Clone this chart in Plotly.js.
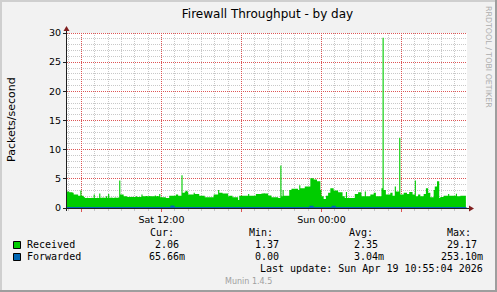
<!DOCTYPE html>
<html>
<head>
<meta charset="utf-8">
<script src="https://cdn.plot.ly/plotly-3.0.1.min.js"></script>
<style>
html,body{margin:0;padding:0;background:#F2F2F2;}
#chart{width:497px;height:292px;}
</style>
</head>
<body>
<div id="chart"></div>
<script>
// ---- data (5-minute samples, one row per hour, starting Sat 04:55) ----
const startTime = Date.UTC(2026, 3, 18, 4, 55, 0);
const stepMinutes = 5;

const receivedByHour = [
  [2.85, 2.85, 2.7, 2.7, 2.7, 2.6, 2.3, 2.3, 2.3, 2.3, 2.1, 2.1],
  [3.0, 2.1, 2.1, 1.9, 1.7, 1.7, 1.75, 1.7, 1.7, 1.7, 1.75, 1.7],
  [2.3, 1.7, 1.7, 1.75, 1.7, 2.5, 1.75, 1.75, 1.8, 1.75, 1.75, 2.0],
  [1.75, 2.4, 1.75, 1.75, 1.8, 1.7, 1.75, 1.8, 1.75, 1.75, 1.8, 4.7],
  [2.3, 2.3, 2.3, 2.0, 2.0, 2.0, 1.9, 1.9, 1.95, 1.9, 1.9, 1.95],
  [1.9, 1.9, 2.0, 1.9, 1.9, 1.95, 1.9, 2.3, 2.0, 2.0, 2.0, 2.05],
  [2.0, 2.0, 2.05, 2.0, 2.0, 2.0, 2.0, 2.15, 2.0, 2.05, 2.0, 2.4],
  [1.85, 1.85, 1.85, 1.85, 1.85, 1.7, 1.7, 1.7, 2.1, 2.1, 2.1, 2.1],
  [2.1, 2.1, 2.3, 2.3, 2.1, 2.1, 2.1, 5.6, 2.6, 2.6, 2.85, 2.95],
  [2.85, 2.3, 2.3, 2.3, 2.3, 2.3, 2.6, 2.4, 2.4, 2.4, 2.4, 2.1],
  [2.1, 2.1, 2.1, 2.1, 1.85, 1.85, 1.85, 1.85, 1.85, 1.85, 1.85, 1.85],
  [2.3, 2.3, 2.3, 2.3, 3.1, 2.6, 2.6, 2.6, 2.5, 2.5, 2.5, 2.5],
  [2.5, 2.0, 2.1, 2.1, 2.1, 1.85, 1.85, 1.85, 1.85, 1.85, 1.37, 2.1],
  [2.1, 2.1, 2.1, 2.1, 2.1, 2.1, 2.1, 2.4, 2.1, 2.1, 2.1, 2.1],
  [2.1, 2.1, 2.4, 2.4, 2.4, 2.4, 2.4, 2.5, 2.5, 2.55, 2.5, 2.5],
  [2.5, 2.15, 2.15, 2.15, 1.85, 1.85, 1.85, 1.85, 1.85, 1.85, 1.7, 1.7],
  [7.3, 2.0, 3.1, 2.1, 2.1, 2.1, 2.1, 2.1, 3.1, 3.1, 3.3, 3.3],
  [3.3, 3.3, 3.3, 3.3, 3.1, 3.9, 3.4, 3.4, 3.4, 3.4, 3.7, 3.7],
  [3.7, 3.7, 3.7, 5.1, 5.1, 5.1, 4.9, 4.9, 4.9, 4.6, 4.6, 4.6],
  [3.1, 2.0, 2.0, 1.55, 1.55, 2.1, 2.1, 2.6, 2.6, 3.4, 3.4, 3.4],
  [3.0, 3.0, 3.0, 3.0, 2.7, 2.7, 2.7, 2.7, 2.0, 2.0, 1.7, 2.75],
  [1.7, 1.7, 1.7, 1.7, 1.7, 1.7, 1.7, 2.4, 2.4, 2.4, 2.7, 2.7],
  [2.7, 2.0, 2.0, 2.0, 2.85, 2.0, 2.0, 2.0, 2.0, 2.3, 2.3, 2.3],
  [2.6, 2.6, 2.0, 2.0, 2.0, 2.0, 2.0, 3.4, 29.17, 3.1, 3.1, 2.3],
  [2.3, 2.3, 2.3, 2.6, 2.6, 2.1, 2.1, 3.7, 2.85, 2.85, 2.85, 12.06],
  [2.3, 2.3, 2.3, 2.6, 2.6, 2.6, 2.4, 2.4, 2.75, 2.75, 2.75, 2.3],
  [2.3, 4.7, 2.0, 2.0, 2.3, 2.3, 2.0, 2.0, 2.0, 2.4, 2.4, 3.4],
  [3.4, 2.6, 2.6, 1.85, 1.85, 1.85, 3.1, 3.7, 3.7, 4.6, 4.6, 1.7],
  [1.9, 1.9, 1.9, 2.1, 2.1, 2.1, 2.1, 2.4, 2.1, 2.1, 2.1, 2.1],
  [2.1, 2.1, 2.45, 2.0, 2.0, 2.0, 2.1, 2.1, 2.1, 2.1, 2.1, 2.06]
];

const forwardedByHour = [
  [0,0,0,0,0,0,0,0,0,0,0,0],
  [0,0,0,0,0,0,0,0,0,0,0,0],
  [0,0,0,0,0,0,0,0,0,0,0,0],
  [0,0,0,0,0,0,0,0,0,0,0,0],
  [0,0,0,0,0,0,0,0,0,0,0,0],
  [0,0,0,0,0,0,0,0,0,0,0,0],
  [0,0,0,0,0,0,0,0,0,0,0,0],
  [0,0,0,0,0,0,0,0,0,0,0.253,0.2],
  [0,0,0,0,0,0,0,0,0,0,0,0],
  [0,0,0,0,0,0,0,0,0,0,0,0],
  [0,0,0,0,0,0,0,0,0,0,0,0],
  [0,0,0,0,0,0,0,0,0,0,0,0],
  [0,0,0,0,0,0,0,0,0,0,0,0],
  [0,0,0,0,0,0,0,0,0,0,0,0],
  [0,0,0,0,0,0,0,0,0,0,0,0],
  [0,0,0,0,0,0,0,0,0,0,0,0],
  [0,0,0,0,0,0,0,0,0,0,0,0],
  [0,0,0,0,0,0,0,0,0,0,0,0],
  [0,0,0,0.2,0.2,0,0,0,0,0,0,0],
  [0,0,0,0,0,0,0,0,0,0,0,0.2],
  [0.2,0,0,0,0,0,0,0,0,0,0,0],
  [0,0,0,0,0,0,0,0,0,0,0,0],
  [0,0,0,0,0,0,0,0,0,0,0,0],
  [0,0,0,0,0,0,0,0,0,0,0,0],
  [0,0,0,0,0,0,0,0,0,0,0,0],
  [0,0,0,0,0,0,0,0,0,0,0,0],
  [0,0,0,0,0,0,0,0,0,0,0,0],
  [0,0,0,0,0,0,0,0,0,0,0,0],
  [0,0,0,0,0,0,0,0,0,0,0,0],
  [0,0,0,0,0,0,0,0,0,0,0,0.066]
];

const xRange = ['2026-04-18 04:55:00', '2026-04-19 10:55:00'];
const majorTickTimes = ['2026-04-18 06:00:00', '2026-04-18 12:00:00', '2026-04-18 18:00:00', '2026-04-19 00:00:00', '2026-04-19 06:00:00'];
const majorTickLabels = ['', 'Sat 12:00', '', 'Sun 00:00', ''];
const yTickValues = [0, 5, 10, 15, 20, 25, 30];

const seriesNames = ['Received', 'Forwarded'];
const seriesColors = ['#00CC00', '#0066B3'];
const statHeaders = ['Cur:', 'Min:', 'Avg:', 'Max:'];
const curValues = ['2.06', '65.66m'];
const minValues = ['1.37', '0.00'];
const avgValues = ['2.35', '3.04m'];
const maxValues = ['29.17', '253.10m'];
const lastUpdate = 'Last update: Sun Apr 19 10:55:04 2026';
const titleText = 'Firewall Throughput - by day';
const yTitle = 'Packets/second';

// ---- build ----
const received = [].concat(...receivedByHour);
const forwarded = [].concat(...forwardedByHour);
function fmt(ms) {
  const d = new Date(ms);
  const p = n => String(n).padStart(2, '0');
  return d.getUTCFullYear() + '-' + p(d.getUTCMonth() + 1) + '-' + p(d.getUTCDate()) + ' ' +
    p(d.getUTCHours()) + ':' + p(d.getUTCMinutes()) + ':' + p(d.getUTCSeconds());
}
const times = received.map((_, i) => fmt(startTime + i * stepMinutes * 60000));

// pixel -> paper helpers
const L = 67, T = 33, W = 400, H = 175, B = T + H;
const px = x => (x - L) / W;
const py = y => (B - y) / H;
const rangeStart = Date.UTC(2026, 3, 18, 4, 55, 0), rangeEnd = Date.UTC(2026, 3, 19, 10, 55, 0);
const timeToPx = ms => L + (ms - rangeStart) / (rangeEnd - rangeStart) * W;
const valToPx = v => B - v / 30 * H;

const GRID = '#C8C8C8';
const MGRID = '#DD5555';
const AXIS = '#1F1F1F';
const ARROW = '#801F1F';
const SANS = 'DejaVu Sans, sans-serif';
const MONO = 'DejaVu Sans Mono, monospace';

const traces = [
  {x: times, y: received, type: 'scatter', mode: 'lines', line: {shape: 'hv', width: 0, color: seriesColors[0]},
   fill: 'tozeroy', fillcolor: seriesColors[0], name: seriesNames[0], hoverinfo: 'skip'},
  {x: times, y: forwarded, type: 'scatter', mode: 'lines', line: {shape: 'hv', width: 2, color: seriesColors[1]},
   name: seriesNames[1], hoverinfo: 'skip'}
];

function rect(x0, y0, x1, y1, fill, lineColor) {
  return {type: 'rect', xref: 'paper', yref: 'paper', x0: px(x0), x1: px(x1), y0: py(y0), y1: py(y1),
    fillcolor: fill, line: {width: lineColor ? 1 : 0, color: lineColor || fill}, layer: 'above'};
}
function seg(x0, y0, x1, y1, color, dash, layer) {
  return {type: 'line', xref: 'paper', yref: 'paper', x0: px(x0), x1: px(x1), y0: py(y0), y1: py(y1),
    line: {width: 1, color: color, dash: dash || 'solid'}, layer: layer || 'above'};
}
function tri(pts, color) {
  const d = 'M' + pts.map(p => px(p[0]) + ',' + py(p[1])).join(' L') + ' Z';
  return {type: 'path', xref: 'paper', yref: 'paper', path: d, fillcolor: color, line: {width: 0}, layer: 'above'};
}

const shapes = [];
// grid lines (hourly minor / 6-hourly major; unit minor / 5-unit major), pixel aligned, under the data
const minorShapes = [], majorShapes = [];
for (let h = 5; h <= 34; h++) {
  const xp = Math.floor(timeToPx(Date.UTC(2026, 3, 18, h, 0, 0))) + 0.5;
  if (xp <= L || xp >= L + W) continue;
  (h % 6 === 0 ? majorShapes : minorShapes).push(seg(xp, T, xp, B, h % 6 === 0 ? MGRID : GRID, '1px,1px', 'between'));
}
for (let v = 1; v <= 30; v++) {
  const yp = Math.floor(valToPx(v)) + 0.5;
  (v % 5 === 0 ? majorShapes : minorShapes).push(seg(L, yp, L + W, yp, v % 5 === 0 ? MGRID : GRID, '1px,1px', 'between'));
}
shapes.push(...minorShapes, ...majorShapes);
shapes.push(
  // frame shading
  rect(0, 0, 497, 2, '#CFCFCF'),
  rect(0, 0, 2, 292, '#CFCFCF'),
  rect(0, 290, 497, 292, '#9E9E9E'),
  rect(495, 0, 497, 292, '#9E9E9E'),
  // axes
  seg(64, 208.5, 470, 208.5, AXIS),
  seg(66.5, 211, 66.5, 29, AXIS),
  tri([[474, 208.5], [469, 205.5], [469, 211.5]], ARROW),
  tri([[66.5, 26], [63.5, 31], [69.5, 31]], ARROW),
  // legend swatches
  rect(13.5, 241.5, 20.5, 248.5, seriesColors[0], '#000000'),
  rect(13.5, 253.5, 20.5, 260.5, seriesColors[1], '#000000')
);

function txt(x, y, text, opts) {
  return Object.assign({xref: 'paper', yref: 'paper', x: px(x), y: py(y), text: text, showarrow: false,
    xanchor: 'left', yanchor: 'middle', borderpad: 0, borderwidth: 0,
    font: {family: MONO, size: 10, color: '#000000'}}, opts || {});
}

const colX = [150, 249.3, 348.7, 447.3];
const colRight = [185.3, 285, 384, 483.3];
const rowsY = [244.7, 256.7];
const annotations = [
  txt(11, 119, yTitle, {xanchor: 'center', textangle: -90, font: {family: SANS, size: 11, color: '#000'}}),
  txt(488.5, 56.5, 'RRDTOOL / TOBI OETIKER', {xanchor: 'center', textangle: 90, font: {family: SANS, size: 7.9, color: '#ADADAD'}}),
  txt(248.7, 281.5, 'Munin 1.4.5', {xanchor: 'center', font: {family: SANS, size: 8, color: '#A0A0A0'}}),
  txt(483.3, 268.5, lastUpdate, {xanchor: 'right'})
];
statHeaders.forEach((h, i) => annotations.push(txt(colX[i], 232.5, h)));
seriesNames.forEach((n, r) => annotations.push(txt(26.5, rowsY[r], n)));
// values right-aligned; values without a unit suffix end one character earlier
[curValues, minValues, avgValues, maxValues].forEach((vals, c) => {
  vals.forEach((v, r) => {
    const right = v.endsWith('m') ? colRight[c] : colRight[c] - 6.02;
    annotations.push(txt(right, rowsY[r], v, {xanchor: 'right'}));
  });
});

const layout = {
  width: 497, height: 292,
  margin: {l: L, r: 497 - L - W, t: T, b: 292 - B, pad: 0},
  paper_bgcolor: '#F2F2F2', plot_bgcolor: '#FFFFFF',
  showlegend: false, hovermode: false,
  title: {text: titleText, x: 267.5 / 497, xanchor: 'center', xref: 'container', y: 1 - 14 / 292, yanchor: 'middle', yref: 'container',
    font: {family: SANS, size: 12, color: '#000'}},
  xaxis: {type: 'date', range: xRange, tickmode: 'array', tickvals: majorTickTimes, ticktext: majorTickLabels,
    showgrid: false,
    ticks: 'outside', ticklen: 3, tickcolor: MGRID, tickwidth: 1,
    tickfont: {family: SANS, size: 9.5, color: '#000'},
    showline: false, zeroline: false, fixedrange: true,
    minor: {tickmode: 'linear', tick0: '2026-04-18 00:00:00', dtick: 3600000, showgrid: false,
      ticks: 'outside', ticklen: 2, tickcolor: GRID}},
  yaxis: {range: [0, 30], tickmode: 'array', tickvals: yTickValues,
    showgrid: false,
    ticks: 'outside', ticklen: 3, tickcolor: AXIS, tickwidth: 1,
    tickfont: {family: SANS, size: 9.5, color: '#000'},
    showline: false, zeroline: false, fixedrange: true},
  shapes: shapes,
  annotations: annotations
};

Plotly.newPlot('chart', traces, layout, {staticPlot: true, displayModeBar: false});
</script>
</body>
</html>
